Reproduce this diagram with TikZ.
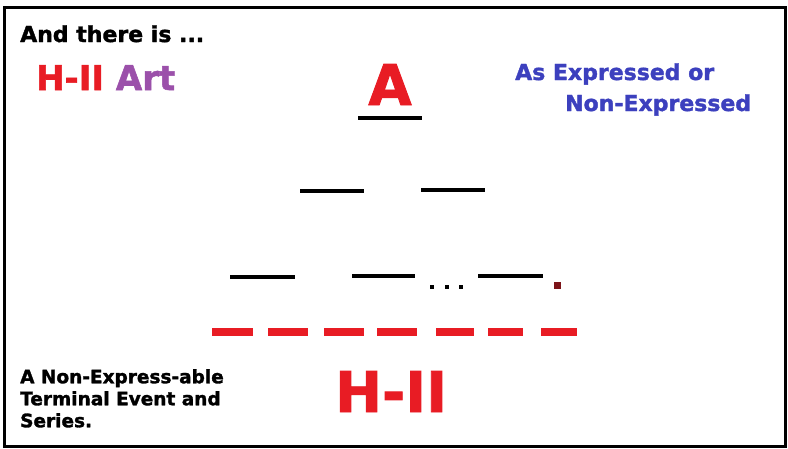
\documentclass[tikz,border=0pt]{standalone}
\usepackage{fontspec}
\setmainfont[BoldFeatures={FakeBold=1.6}]{DejaVu Sans}
\definecolor{hred}{RGB}{232,28,36}
\definecolor{hpurple}{RGB}{155,80,170}
\definecolor{hblue}{RGB}{60,64,190}
\definecolor{hmaroon}{RGB}{125,20,25}
\tikzset{
    heading/.style={anchor=base west, inner sep=0pt, font=\bfseries\fontsize{22}{26}\selectfont},
    bigletter/.style={anchor=base, inner sep=0pt, text=hred, font=\bfseries\fontsize{56}{60}\selectfont},
    bar/.style={line width=4.5pt},
    redbar/.style={line width=8pt, hred},
}
\begin{document}
\begin{tikzpicture}[x=1pt,y=-1pt]
  \useasboundingbox (0,0) rectangle (788,448);
  \draw[line width=3pt] (4.5,7.5) rectangle (785.5,446);

  % Labeling
  \node[heading] (intro) at (20,42) {And there is ...};
  \node[heading, font=\bfseries\fontsize{34}{38}\selectfont] (title) at (36,90) {\textcolor{hred}{H-II} \textcolor{hpurple}{Art}};
  \node[heading, text=hblue] (expr) at (515,80) {As Expressed or};
  \node[heading, text=hblue] (nonexpr) at (565,111) {Non-Expressed};
  \node[bigletter] (top) at (390,105) {A};

  % Lines
  \draw[bar] (358,118) -- (422,118);
  \draw[bar] (300,191) -- (364,191);
  \draw[bar] (421,190) -- (485,190);
  \draw[bar] (230,277) -- (295,277);
  \draw[bar] (352,276) -- (415,276);
  \draw[bar] (478,276) -- (543,276);

  % Dots
  \foreach \x in {432,447,461}
    \fill (\x-2,285) rectangle (\x+2,289);
  \fill[hmaroon] (553.5,281.5) rectangle (560.5,288.5);

  % Red dashes
  \foreach \a/\b in {212/253,268/308,324/364,377/417,436/474,488/523,541/577}
    \draw[redbar] (\a,332) -- (\b,332);

  % Bottom
  \node[anchor=north west, inner sep=0pt, align=left, font=\bfseries\fontsize{18.5}{22}\selectfont] (terminal) at (20,369) {A Non-Express-able\\Terminal Event and\\Series.};
  \node[bigletter, anchor=base west] (bottom) at (335,412) {H-II};
\end{tikzpicture}
\end{document}
